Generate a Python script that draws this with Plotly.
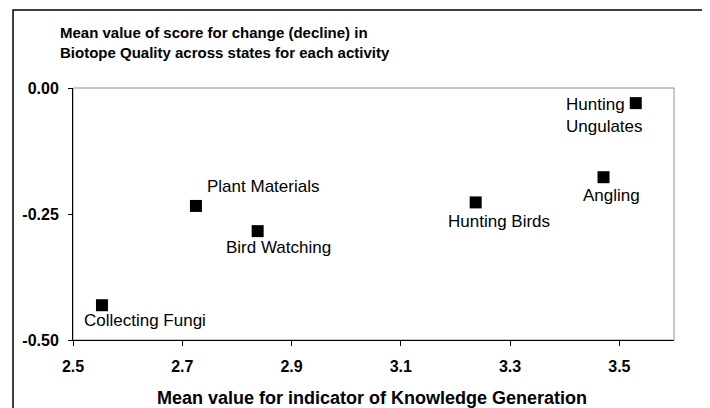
import plotly.graph_objects as go

activities = ["Collecting Fungi", "Plant Materials", "Bird Watching",
              "Hunting Birds", "Angling", "Hunting<br>Ungulates"]
knowledge = [2.553, 2.725, 2.838, 3.237, 3.471, 3.530]
biotope_change = [-0.431, -0.234, -0.284, -0.227, -0.177, -0.030]

x_ticks = [2.5, 2.7, 2.9, 3.1, 3.3, 3.5]
y_ticks = [-0.50, -0.25, 0.00]
y_tick_text = ["-0.50", "-0.25", "0.00"]

# label offsets (pixels) relative to each marker: (xshift, yshift)
offsets = [(-20, -15), (9, 19), (-34, -16), (-30, -19), (-23, -18), (-72, -12)]

FONT = "Liberation Sans, Arial, sans-serif"

fig = go.Figure()
fig.add_trace(go.Scatter(
    x=knowledge, y=biotope_change, mode="markers",
    marker=dict(symbol="square", size=12, color="black"),
    hoverinfo="skip", showlegend=False,
))

for name, xv, yv, (dx, dy) in zip(activities, knowledge, biotope_change, offsets):
    fig.add_annotation(x=xv, y=yv, xref="x", yref="y", text=name,
                       showarrow=False, xanchor="left", yanchor="middle",
                       align="left", xshift=dx, yshift=dy,
                       font=dict(family=FONT, size=17, color="black"))

# chart title (top-left)
fig.add_annotation(
    text="<b>Mean value of score for change (decline) in<br>Biotope Quality across states for each activity</b>",
    xref="paper", yref="paper", x=-0.025, y=1.181, xanchor="left", yanchor="middle",
    align="left", showarrow=False, font=dict(family=FONT, size=15, color="black"))

# x-axis title
fig.add_annotation(
    text="<b>Mean value for indicator of Knowledge Generation</b>",
    xref="paper", yref="paper", x=0.4975, y=-0.230, xanchor="center", yanchor="middle",
    showarrow=False, font=dict(family=FONT, size=18, color="black"))

# gray plot-area frame
fig.add_shape(type="rect", xref="paper", yref="paper", x0=0, y0=0, x1=1, y1=1,
              line=dict(color="#909090", width=1), layer="below")
# outer chart border
fig.add_shape(type="rect", xref="paper", yref="paper",
              x0=-0.0998, x1=1.0565, y0=-0.30, y1=1.3095,
              line=dict(color="black", width=1.5), layer="below")

fig.update_layout(
    width=702, height=400,
    margin=dict(l=65, r=36, t=80, b=68),
    paper_bgcolor="white", plot_bgcolor="white",
    font=dict(family=FONT, color="black"),
    xaxis=dict(range=[2.5, 3.6], tickvals=x_ticks, ticktext=[f"{v:.1f}" for v in x_ticks],
               ticks="outside", ticklen=5, tickcolor="black", showgrid=False,
               zeroline=False, showline=True, linecolor="black", linewidth=1,
               ticklabelstandoff=7,
               tickfont=dict(family=FONT, size=16, color="black", weight="bold")),
    yaxis=dict(range=[-0.5, 0.0], tickvals=y_ticks, ticktext=y_tick_text,
               ticks="outside", ticklen=4, tickcolor="black", showgrid=False,
               zeroline=False, showline=True, linecolor="black", linewidth=1,
               ticklabelstandoff=6,
               tickfont=dict(family=FONT, size=16, color="black", weight="bold")),
)

fig.write_html("out.html")
